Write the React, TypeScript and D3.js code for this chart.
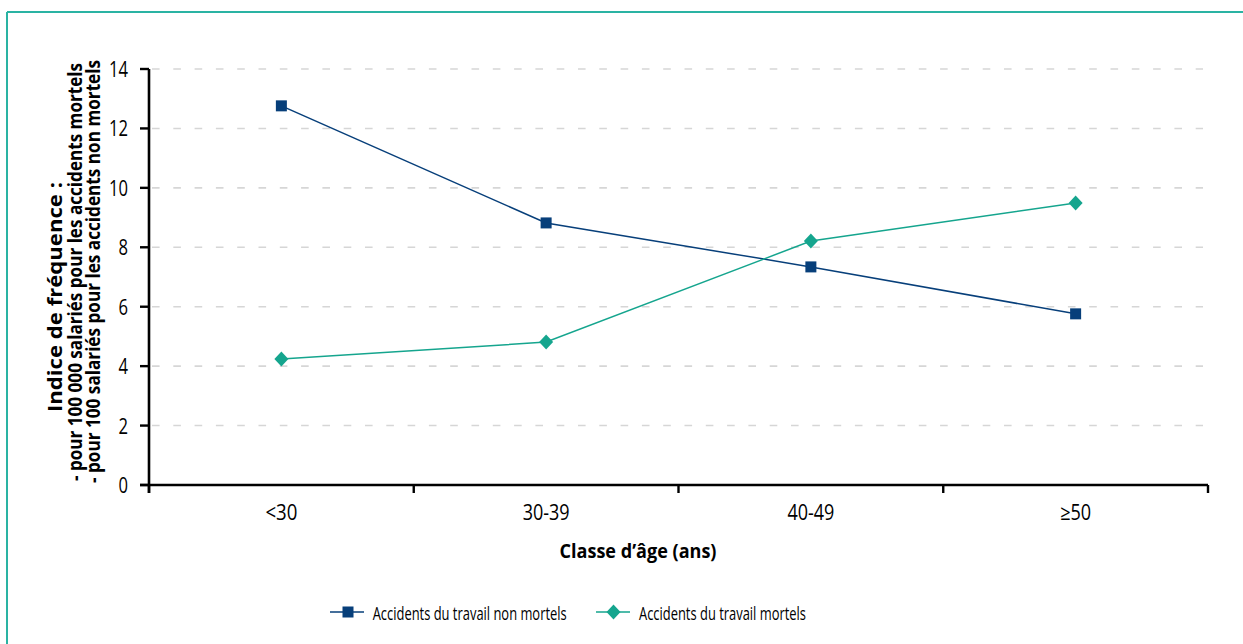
import React from "react";
import * as d3 from "d3";

const categories = ["<30", "30-39", "40-49", "≥50"];
const nonMortels = [12.76, 8.82, 7.34, 5.76];
const mortels = [4.24, 4.81, 8.21, 9.49];
const yTicks = [0, 2, 4, 6, 8, 10, 12, 14];
const seriesNames = ["Accidents du travail non mortels", "Accidents du travail mortels"];
const yTitleLines = [
  "Indice de fréquence :",
  "- pour 100 000 salariés pour les accidents mortels",
  "- pour 100 salariés pour les accidents non mortels",
];
const xTitle = "Classe d’âge (ans)";

const W = 1243;
const H = 644;
const NAVY = "#073f7a";
const TEAL = "#15a58e";
const BORDER = "#2ab3a3";
const FONT = "'Open Sans', 'DejaVu Sans', sans-serif";

// layout widths (px) of condensed text
const catLabelWidths = [32, 47, 47, 31];
const yTitleLayout = [
  { x: 62, c: 297, len: 230 },
  { x: 82, c: 272, len: 418 },
  { x: 100, c: 271.5, len: 423 },
];

export default function App() {
  const left = 149, right = 1208, top = 69, bottom = 485;
  const x = d3.scaleBand<string>().domain(categories).range([left, right]);
  const y = d3.scaleLinear().domain([0, 14]).range([bottom, top]);
  const cx = (c: string) => (x(c) as number) + x.bandwidth() / 2;
  const line = d3
    .line<number>()
    .x((_, i) => cx(categories[i]))
    .y((d) => y(d));
  const tickXs = [...categories.map((c) => x(c) as number), right];

  const square = (px: number, py: number, key: any) => (
    <rect key={key} x={px - 5.5} y={py - 5.5} width={11} height={11} fill={NAVY} />
  );
  const diamond = (px: number, py: number, key: any) => (
    <path
      key={key}
      d={`M${px},${py - 7.5}L${px + 7},${py}L${px},${py + 7.5}L${px - 7},${py}Z`}
      fill={TEAL}
    />
  );

  return (
    <svg
      width={W}
      height={H}
      style={{ position: "absolute", left: 0, top: 0, background: "#fff" }}
      fontFamily={FONT}
    >
      <rect x={0} y={0} width={W} height={H} fill="#fff" />
      {/* frame */}
      <line x1={7} y1={12} x2={W} y2={12} stroke={BORDER} strokeWidth={2} />
      <line x1={7} y1={12} x2={7} y2={H} stroke={BORDER} strokeWidth={2} />

      {/* gridlines */}
      {yTicks.filter((t) => t > 0).map((t) => (
        <line
          key={t}
          x1={152}
          x2={1203}
          y1={y(t)}
          y2={y(t)}
          stroke="#d6d6d6"
          strokeWidth={1.6}
          strokeDasharray="7.6,13.7"
        />
      ))}

      {/* y axis */}
      <line x1={left} x2={left} y1={top} y2={bottom + 8} stroke="#000" strokeWidth={2.6} />
      {yTicks.map((t) => (
        <g key={t}>
          <line x1={left - 9} x2={left} y1={y(t)} y2={y(t)} stroke="#000" strokeWidth={2.4} />
          <text
            x={left - 21 - String(t).length * 9.5}
            y={y(t) + 8}
            fontSize={21}
            fill="#000"
            textLength={String(t).length * 9.5}
            lengthAdjust="spacingAndGlyphs"
          >
            {t}
          </text>
        </g>
      ))}

      {/* x axis */}
      <line x1={left - 9} x2={right} y1={bottom} y2={bottom} stroke="#000" strokeWidth={2.6} />
      {tickXs.map((tx, i) => (
        <line key={i} x1={tx} x2={tx} y1={bottom} y2={bottom + 8} stroke="#000" strokeWidth={2.4} />
      ))}
      {categories.map((c, i) => (
        <text
          key={c}
          x={cx(c) - catLabelWidths[i] / 2}
          y={520}
          fontSize={21}
          fill="#000"
          textLength={catLabelWidths[i]}
          lengthAdjust="spacingAndGlyphs"
        >
          {c}
        </text>
      ))}

      <text
        x={638 - 78.5}
        y={558}
        fontSize={20}
        fontWeight="bold"
        fill="#000"
        textLength={157}
        lengthAdjust="spacingAndGlyphs"
      >
        {xTitle}
      </text>

      {/* y title */}
      {yTitleLines.map((l, i) => {
        const L = yTitleLayout[i];
        return (
          <text
            key={i}
            transform={`translate(${L.x}, ${L.c + L.len / 2}) rotate(-90)`}
            x={0}
            y={0}
            fontSize={19}
            fontWeight="bold"
            fill="#000"
            textLength={L.len}
            lengthAdjust="spacingAndGlyphs"
          >
            {l}
          </text>
        );
      })}

      {/* series */}
      <path d={line(nonMortels) as string} fill="none" stroke={NAVY} strokeWidth={1.5} />
      <path d={line(mortels) as string} fill="none" stroke={TEAL} strokeWidth={1.5} />
      {nonMortels.map((v, i) => square(cx(categories[i]), y(v), "s" + i))}
      {mortels.map((v, i) => diamond(cx(categories[i]), y(v), "d" + i))}

      {/* legend */}
      <g>
        <line x1={330} x2={364} y1={612} y2={612} stroke={NAVY} strokeWidth={1.5} />
        {square(348, 612, "ls")}
        <text
          x={372.7}
          y={620}
          fontSize={17.5}
          fill="#000"
          textLength={194}
          lengthAdjust="spacingAndGlyphs"
        >
          {seriesNames[0]}
        </text>
        <line x1={596} x2={630} y1={612} y2={612} stroke={TEAL} strokeWidth={1.5} />
        {diamond(613.5, 612, "ld")}
        <text
          x={639}
          y={620}
          fontSize={17.5}
          fill="#000"
          textLength={167}
          lengthAdjust="spacingAndGlyphs"
        >
          {seriesNames[1]}
        </text>
      </g>
    </svg>
  );
}
